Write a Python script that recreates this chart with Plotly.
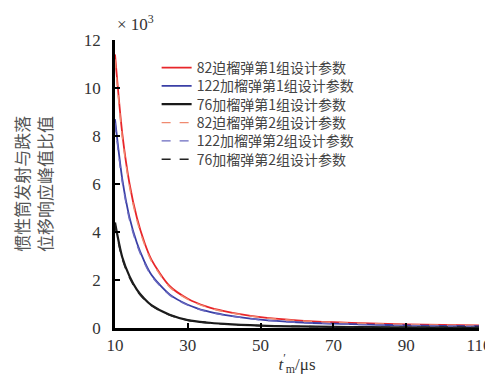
import plotly.graph_objects as go

t = [10, 12, 14, 16, 18, 20, 25, 30, 35, 40, 50, 60, 70, 80, 90, 100, 110]

red_set1 = [11.4, 8.1, 6.0, 4.6, 3.6, 2.85, 1.75, 1.22, 0.9, 0.7, 0.45, 0.32, 0.24, 0.19, 0.15, 0.125, 0.105]
blue_set1 = [8.7, 6.2, 4.6, 3.55, 2.8, 2.22, 1.4, 0.97, 0.71, 0.55, 0.35, 0.24, 0.18, 0.14, 0.11, 0.09, 0.075]
black_set1 = [4.4, 2.95, 2.15, 1.6, 1.23, 0.95, 0.55, 0.33, 0.23, 0.17, 0.1, 0.065, 0.045, 0.035, 0.028, 0.022, 0.018]

red_set2 = [11.2, 7.95, 5.88, 4.5, 3.52, 2.79, 1.71, 1.19, 0.88, 0.68, 0.44, 0.31, 0.235, 0.185, 0.146, 0.122, 0.102]
blue_set2 = [8.55, 6.08, 4.5, 3.47, 2.74, 2.17, 1.37, 0.95, 0.69, 0.54, 0.34, 0.235, 0.175, 0.137, 0.108, 0.088, 0.073]
black_set2 = [4.3, 2.88, 2.1, 1.56, 1.2, 0.93, 0.54, 0.32, 0.225, 0.165, 0.098, 0.063, 0.044, 0.034, 0.027, 0.021, 0.017]

names = [
    "82迫榴弹第1组设计参数",
    "122加榴弹第1组设计参数",
    "76加榴弹第1组设计参数",
    "82迫榴弹第2组设计参数",
    "122加榴弹第2组设计参数",
    "76加榴弹第2组设计参数",
]

x_ticks = [10, 30, 50, 70, 90, 110]
y_ticks = [0, 2, 4, 6, 8, 10, 12]

series = [
    (red_set1, "#e8262a", "solid", 1.8),
    (blue_set1, "#3a3fa6", "solid", 1.8),
    (black_set1, "#1a1a1a", "solid", 2.2),
    (red_set2, "#f08a70", "dash", 1.4),
    (blue_set2, "#6a6ac0", "dash", 1.4),
    (black_set2, "#222222", "dash", 1.6),
]

L, R, T, B = 107, 10, 32, 58
W, H = 493, 378
pw, ph = W - L - R, H - T - B

legend_font = dict(family="Noto Sans CJK SC, Liberation Serif", size=14, color="#444")
row_centers = [60, 78.3, 96.6, 115, 133.3, 151.6]

fig = go.Figure()
legend_layout = {}
for i, ((vals, color, dash, w), name) in enumerate(zip(series, names)):
    lg = "legend" if i == 0 else f"legend{i+1}"
    fig.add_trace(go.Scatter(
        x=t, y=vals, mode="lines", name=name, legend=lg,
        line=dict(color=color, dash=dash, width=w, shape="spline", smoothing=0.8),
    ))
    legend_layout[lg] = dict(
        x=(150 - L) / pw, y=(H - B - row_centers[i]) / ph, xanchor="left", yanchor="middle",
        font=legend_font, bgcolor="rgba(0,0,0,0)", itemwidth=30,
    )

serif = "Liberation Serif, Noto Sans CJK SC, serif"
fig.update_layout(
    width=W, height=H,
    margin=dict(l=L, r=R, t=T, b=B),
    paper_bgcolor="white", plot_bgcolor="white",
    showlegend=True,
    **legend_layout,
    xaxis=dict(
        range=[10, 110], tickvals=x_ticks, ticktext=[str(v) for v in x_ticks],
        showgrid=False, zeroline=False, showline=True, linecolor="black", linewidth=2.5,
        ticks="inside", ticklen=5, tickwidth=2, tickcolor="black",
        tickfont=dict(family=serif, size=17, color="#333"),
        ticklabeloverflow="allow",
        title=dict(text="<i>t</i><sup>′</sup><sub>m</sub>/μs", font=dict(family=serif, size=17, color="#333"), standoff=4),
    ),
    yaxis=dict(
        range=[0, 12], tickvals=y_ticks, ticktext=[str(v) for v in y_ticks],
        showgrid=False, zeroline=False, showline=True, linecolor="black", linewidth=2.5,
        ticks="inside", ticklen=5, tickwidth=2, tickcolor="black", ticklabelstandoff=8,
        tickfont=dict(family=serif, size=17, color="#333"),
    ),
    annotations=[
        dict(text="惯性筒发射与跌落", textangle=-90,
             xref="paper", yref="paper", x=(22 - L) / pw, y=0.5, xanchor="center", yanchor="middle",
             xshift=-12, showarrow=False, font=dict(family="Noto Sans CJK SC", size=17, color="#555")),
        dict(text="位移响应峰值比值", textangle=-90,
             xref="paper", yref="paper", x=(42 - L) / pw, y=0.5, xanchor="center", yanchor="middle",
             xshift=-8, showarrow=False, font=dict(family="Noto Sans CJK SC", size=17, color="#555")),
        dict(text="× 10<sup>3</sup>", xref="paper", yref="paper", x=0.0, y=1.0,
             xanchor="left", yanchor="bottom", yshift=4, showarrow=False,
             font=dict(family=serif, size=17, color="#333")),
    ],
)

fig.write_html("out.html")
